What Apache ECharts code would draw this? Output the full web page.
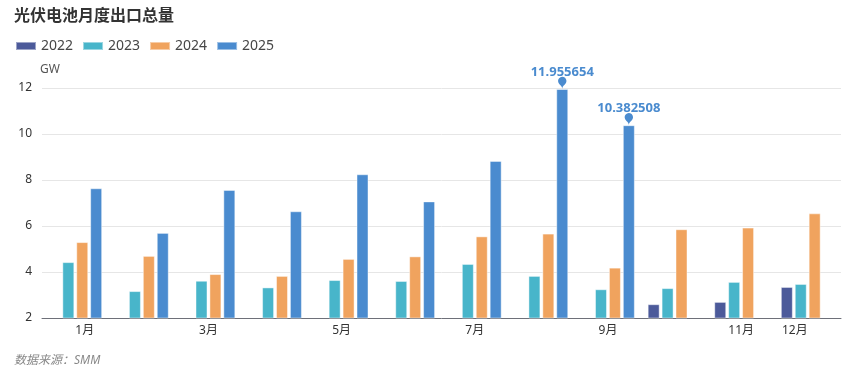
<!DOCTYPE html>
<html>
<head>
<meta charset="utf-8">
<script src="https://cdn.jsdelivr.net/npm/echarts@6/dist/echarts.min.js"></script>
<style>
  html, body { margin: 0; padding: 0; background: #fff; }
  #main { width: 861px; height: 376px; }
</style>
</head>
<body>
<div id="main"></div>
<script type="text/javascript">
// 月份
var months = ["1月", "2月", "3月", "4月", "5月", "6月", "7月", "8月", "9月", "10月", "11月", "12月"];
// 各年度出口量 (GW)
var data2022 = [null, null, null, null, null, null, null, null, null, 2.60, 2.70, 3.35];
var data2023 = [4.43, 3.17, 3.62, 3.33, 3.65, 3.61, 4.35, 3.83, 3.25, 3.30, 3.57, 3.48];
var data2024 = [5.30, 4.70, 3.91, 3.83, 4.57, 4.68, 5.55, 5.67, 4.19, 5.86, 5.93, 6.55];
var data2025 = [7.64, 5.70, 7.57, 6.64, 8.25, 7.07, 8.83, 11.955654, 10.382508, null, null, null];
// 标注的月份下标（8月、9月）
var markIdx = [7, 8];

var colors = ["#4c5a9a", "#48b5ca", "#f0a35e", "#4a8bcf"];
var fontFamily = "'Noto Sans', 'Noto Sans CJK SC', sans-serif";
var chart = echarts.init(document.getElementById("main"));

function barSeries(name, data, color) {
  return {
    name: name,
    type: "bar",
    barWidth: 12,
    barGap: "16%",
    itemStyle: {
      color: color,
      borderColor: "rgba(255,255,255,0.45)",
      borderWidth: 1
    },
    data: data
  };
}

var s2025 = barSeries("2025", data2025, colors[3]);
s2025.markPoint = {
  symbol: "pin",
  symbolSize: 14,
  itemStyle: { color: colors[3] },
  label: {
    show: true,
    position: "top",
    distance: 0,
    offset: [0, 2],
    color: colors[3],
    fontWeight: "bold",
    fontSize: 13,
    formatter: function (p) {
      return p.value;
    }
  },
  data: markIdx.map(function (i) {
    return { coord: [i, data2025[i]], value: data2025[i] };
  })
};

chart.setOption({
  color: colors,
  animation: false,
  textStyle: { fontFamily: fontFamily },
  title: {
    text: "光伏电池月度出口总量",
    left: 9,
    top: 3,
    textStyle: { fontSize: 16, fontWeight: "bold", color: "#333", fontFamily: fontFamily }
  },
  legend: {
    left: 10,
    top: 34,
    itemWidth: 20,
    itemHeight: 8,
    itemGap: 9,
    icon: "rect",
    textStyle: { fontSize: 14, color: "#464646" },
    data: ["2022", "2023", "2024", "2025"]
  },
  graphic: [
    {
      type: "text",
      left: 14,
      top: 355,
      style: {
        text: "数据来源：SMM",
        fontSize: 12,
        fontStyle: "italic",
        fill: "#888",
        fontFamily: fontFamily
      }
    }
  ],
  grid: {
    left: 42,
    right: 20,
    top: 88,
    bottom: 58,
    containLabel: false
  },
  xAxis: {
    type: "category",
    data: months,
    axisTick: { show: false },
    axisLine: { lineStyle: { color: "#6e7079" } },
    axisLabel: {
      color: "#333",
      fontSize: 12,
      margin: 7,
      alignMinLabel: "left",
      alignMaxLabel: "right",
      interval: function (index) {
        return index % 2 === 0 || index === months.length - 1;
      }
    }
  },
  yAxis: {
    type: "value",
    name: "GW",
    nameGap: 12,
    nameTextStyle: { color: "#555", fontSize: 12, align: "left", padding: [0, 0, 0, -2] },
    min: 2,
    max: 12,
    interval: 2,
    axisLabel: { color: "#333", fontSize: 12, margin: 10 },
    splitLine: { lineStyle: { color: "#e6e6e6" } }
  },
  series: [
    barSeries("2022", data2022, colors[0]),
    barSeries("2023", data2023, colors[1]),
    barSeries("2024", data2024, colors[2]),
    s2025
  ]
});
</script>
</body>
</html>
